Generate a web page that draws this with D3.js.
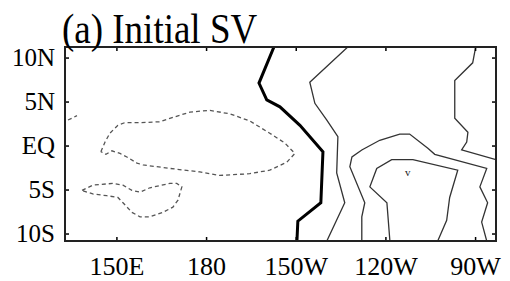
<!DOCTYPE html>
<html>
<head>
  <meta charset="utf-8" />
  <title>(a) Initial SV</title>
  <script src="https://d3js.org/d3.v7.min.js"></script>
  <style>
    body { margin: 0; background: #fff; }
    svg { display: block; }
  </style>
</head>
<body>
<svg id="chart" width="510" height="281"></svg>
<script>
  // axis ticks
  var lonTicks = [150, 180, 210, 240, 270];
  var lonLabels = ["150E", "180", "150W", "120W", "90W"];
  var latTicks = [10, 5, 0, -5, -10];
  var latLabels = ["10N", "5N", "EQ", "5S", "10S"];

  // contours, [lon (deg E), lat]
  var zeroLine = [[202.7, 11.2], [197.7, 7.1], [200.3, 5.2], [204.7, 4.4], [211.4, 2.3], [219.1, -0.7], [218.4, -6.5], [210.7, -8.6], [210.4, -10.85]];
  var pos1 = [[227.4, 11.2], [214.7, 7.2], [216.4, 4.8], [220.4, 2.9], [224.1, 1.0], [223.7, -3.1], [226.4, -6.5], [220.4, -10.85]];
  var pos2 = [[232.1, -10.85], [232.1, -8.1], [233.1, -6.5], [228.1, -2.4], [228.8, -1.3], [232.1, -0.5], [238.1, 0.6], [244.8, 1.3], [248.1, 1.3], [254.2, -0.3], [256.5, -1.0], [273.9, -2.6], [271.6, -4.7], [274.2, -6.5], [272.2, -8.7], [273.9, -10.85]];
  var pos3 = [[241.5, -10.85], [240.5, -6.5], [234.8, -4.7], [237.1, -2.6], [242.1, -1.6], [249.2, -1.6], [264.2, -2.8], [261.5, -5.9], [260.5, -8.5], [257.5, -10.85]];
  var pos4 = [[270.2, 11.2], [269.2, 9.4], [263.2, 7.4], [263.2, 3.1], [267.6, 1.5], [267.2, 0.4], [265.5, -0.5], [277, -1.6]];
  var neg1 = [[144.8, -0.7], [146.2, 0.4], [147.8, 1.4], [150.5, 2.3], [152.8, 2.6], [157.9, 2.6], [164.5, 2.7], [168.9, 3.2], [174.6, 3.8], [181.3, 4.0], [188.0, 3.6], [194.6, 2.8], [201.3, 1.4], [206.3, 0.3], [209.7, -0.9], [207.0, -1.9], [201.3, -2.8], [194.6, -3.2], [184.6, -3.4], [177.9, -3.0], [167.9, -2.6], [158.9, -2.2], [156.9, -2.0], [153.5, -1.3], [151.2, -0.9], [148.5, -0.6], [146.5, -1.0], [144.8, -0.7]];
  var neg2 = [[138.5, -5.1], [142.1, -4.5], [148.8, -4.3], [152.2, -4.5], [155.2, -5.1], [157.9, -5.3], [161.2, -4.8], [167.9, -4.3], [170.2, -4.3], [171.9, -4.7], [170.6, -6.2], [168.9, -7.0], [165.5, -7.6], [161.2, -8.1], [157.9, -8.1], [155.2, -7.6], [152.2, -6.5], [150.5, -5.9], [146.8, -5.7], [142.1, -5.5], [138.5, -5.1]];
  var neg3 = [[133.8, 2.9], [135.1, 3.1], [136.8, 3.4]];
  var marker = [247.5, -3.1];

  var serif = "'Liberation Serif'";
  var svg = d3.select("#chart");

  var x = d3.scaleLinear().domain([132.8, 277]).range([65, 496]);
  var y = d3.scaleLinear().domain([-10.85, 11.2]).range([241, 47]);

  svg.append("clipPath").attr("id", "clip")
    .append("rect")
    .attr("x", 65).attr("y", 47).attr("width", 431).attr("height", 194);

  var line = d3.line()
    .x(function (d) { return x(d[0]); })
    .y(function (d) { return y(d[1]); });

  var g = svg.append("g").attr("clip-path", "url(#clip)");

  // negative (dashed)
  [neg1, neg2, neg3].forEach(function (c) {
    g.append("path").datum(c)
      .attr("d", line)
      .attr("fill", "none")
      .attr("stroke", "#555")
      .attr("stroke-width", 1.3)
      .attr("stroke-dasharray", "4,3");
  });

  // positive (thin solid)
  [pos1, pos2, pos3, pos4].forEach(function (c) {
    g.append("path").datum(c)
      .attr("d", line)
      .attr("fill", "none")
      .attr("stroke", "#333")
      .attr("stroke-width", 1.3);
  });

  // zero line (bold)
  g.append("path").datum(zeroLine)
    .attr("d", line)
    .attr("fill", "none")
    .attr("stroke", "#000")
    .attr("stroke-width", 3);

  g.append("text")
    .attr("x", x(marker[0])).attr("y", y(marker[1]))
    .attr("text-anchor", "middle")
    .attr("dy", "0.3em")
    .attr("fill", "#222")
    .style("font-family", serif)
    .style("font-size", "11px")
    .text("v");

  // axes
  var noLabel = function () { return ""; };
  var axisB = d3.axisBottom(x).tickValues(lonTicks)
    .tickFormat(function (d, i) { return lonLabels[i]; })
    .tickSize(-4).tickPadding(16);
  var axisT = d3.axisTop(x).tickValues(lonTicks).tickFormat(noLabel).tickSize(-4);
  var axisL = d3.axisLeft(y).tickValues(latTicks)
    .tickFormat(function (d, i) { return latLabels[i]; })
    .tickSize(-4).tickPadding(10);
  var axisR = d3.axisRight(y).tickValues(latTicks).tickFormat(noLabel).tickSize(-4);

  var gb = svg.append("g").attr("transform", "translate(0,241)").call(axisB);
  svg.append("g").attr("transform", "translate(0,47)").call(axisT);
  var gl = svg.append("g").attr("transform", "translate(65,0)").call(axisL);
  svg.append("g").attr("transform", "translate(496,0)").call(axisR);

  svg.selectAll(".domain").remove();
  svg.selectAll(".tick line").attr("stroke", "#000").attr("stroke-width", 1.5);
  svg.selectAll("g").attr("font-family", "Liberation Serif");
  gb.selectAll("text").style("font-family", serif).style("font-size", "26px").attr("fill", "#000");
  gl.selectAll("text").style("font-family", serif).style("font-size", "25px").attr("fill", "#000");

  svg.append("rect")
    .attr("x", 65).attr("y", 47).attr("width", 431).attr("height", 194)
    .attr("fill", "none")
    .attr("stroke", "#222")
    .attr("stroke-width", 2);

  // title
  svg.append("text")
    .attr("x", 62).attr("y", 43)
    .attr("transform", "translate(0,-5.6) scale(1,1.13)")
    .style("font-family", serif)
    .style("font-size", "37px")
    .text("(a) Initial SV");
</script>
</body>
</html>
